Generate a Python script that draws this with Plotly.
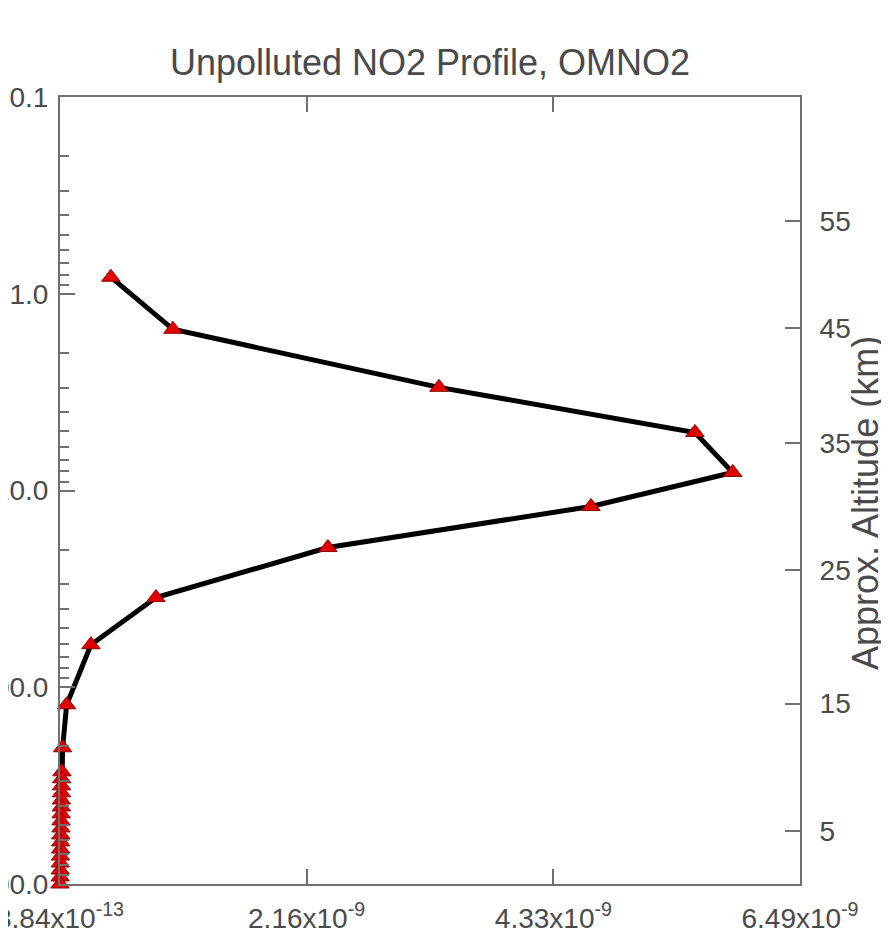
import plotly.graph_objects as go

# NO2 volume mixing ratio (x) at pressure levels (hPa)
no2_vmr = [0.447e-9, 0.991e-9, 3.324e-9, 5.569e-9, 5.900e-9, 4.657e-9, 2.350e-9,
           0.842e-9, 0.272e-9, 0.059e-9, 0.024e-9,
           1.8e-11, 1.6e-11, 1.5e-11, 1.4e-11, 1.3e-11, 1.2e-11, 1.1e-11, 1.0e-11,
           9.0e-12, 8.0e-12, 7.0e-12, 6.0e-12, 5.0e-12, 4.0e-12, 3.0e-12, 2.0e-12, 8.84e-13]
pressure = [0.824, 1.516, 2.99, 5.07, 8.10, 12.06, 19.5,
            35.0, 60.8, 122.8, 203.0,
            269, 292, 317, 344, 374, 406, 440, 478,
            519, 563, 611, 664, 721, 782, 849, 921, 1000]

# x-axis ticks
x_range = [8.83e-13, 6.49e-9]
x_tickvals = [8.84e-13, 2.163e-9, 4.327e-9, 6.49e-9]
x_ticktext = ["8.84x10<sup>-13</sup>", "2.16x10<sup>-9</sup>",
              "4.33x10<sup>-9</sup>", "6.49x10<sup>-9</sup>"]

# right axis: approximate altitude (km) and corresponding pressure (hPa)
alt_labels = ["5", "15", "25", "35", "45", "55"]
alt_pressure = [540.5, 121.1, 25.49, 5.75, 1.49, 0.426]

FONT = "Liberation Sans"
TXT = "#4a4a4a"
AX = "#707070"

# page body has an 8px margin; the figure is sized so the plot frame lands at
# x 60..800, y 97..884 of the 889x932 window
W, H = 881, 924
L, R, T, B = 52, 89, 89, 48
PW, PH = W - L - R, H - T - B

fig = go.Figure()
fig.add_trace(go.Scatter(
    x=no2_vmr, y=pressure, mode="lines+markers",
    line=dict(color="black", width=5),
    marker=dict(symbol="triangle-up", size=16, color="#e00000",
                line=dict(color="#900000", width=1)),
    cliponaxis=False, showlegend=False,
))
# invisible trace to activate the right axis
fig.add_trace(go.Scatter(x=[no2_vmr[0]], y=[pressure[0]], yaxis="y2",
                         mode="markers", marker=dict(opacity=0),
                         showlegend=False, hoverinfo="skip"))

fig.update_layout(
    template="none",
    width=W, height=H,
    margin=dict(l=L, r=R, t=T, b=B),
    paper_bgcolor="white", plot_bgcolor="white",
    font=dict(family=FONT, color=TXT),
    title=dict(text="Unpolluted NO2 Profile, OMNO2", x=(L + PW / 2) / W,
               xanchor="center", y=1 - 54 / H, yanchor="middle",
               font=dict(family=FONT, size=36, color=TXT)),
    xaxis=dict(
        range=x_range, tickmode="array",
        tickvals=x_tickvals, ticktext=x_ticktext,
        ticks="inside", ticklen=15, tickwidth=1.5, tickcolor=AX,
        showline=True, linecolor=AX, linewidth=2, mirror="ticks",
        showgrid=False, zeroline=False, automargin=False,
        ticklabeloverflow="allow",
        tickfont=dict(family=FONT, size=28, color=TXT), ticklabelstandoff=8,
    ),
    yaxis=dict(
        type="log", range=[3, -1], tickmode="linear", tick0=0, dtick=1,
        tickformat=".1f",
        ticks="inside", ticklen=15, tickwidth=1.5, tickcolor=AX,
        minor=dict(ticks="inside", ticklen=9, tickwidth=1.5, tickcolor=AX, showgrid=False),
        showline=True, linecolor=AX, linewidth=2,
        showgrid=False, zeroline=False, automargin=False,
        ticklabeloverflow="allow",
        tickfont=dict(family=FONT, size=28, color=TXT), ticklabelstandoff=4,
    ),
    yaxis2=dict(
        type="log", range=[3, -1], overlaying="y", side="right",
        tickmode="array", tickvals=alt_pressure, ticktext=alt_labels,
        ticks="inside", ticklen=15, tickwidth=1.5, tickcolor=AX,
        showline=True, linecolor=AX, linewidth=2,
        showgrid=False, zeroline=False, automargin=False,
        tickfont=dict(family=FONT, size=28, color=TXT), ticklabelstandoff=12,
    ),
    annotations=[dict(
        text="Approx. Altitude (km)", textangle=-90,
        xref="paper", yref="paper", x=(866 - 8 - L) / PW, y=(884 - 503) / PH,
        xanchor="center", yanchor="middle", showarrow=False,
        font=dict(family=FONT, size=36, color=TXT),
    )],
)

fig.write_html("out.html")
